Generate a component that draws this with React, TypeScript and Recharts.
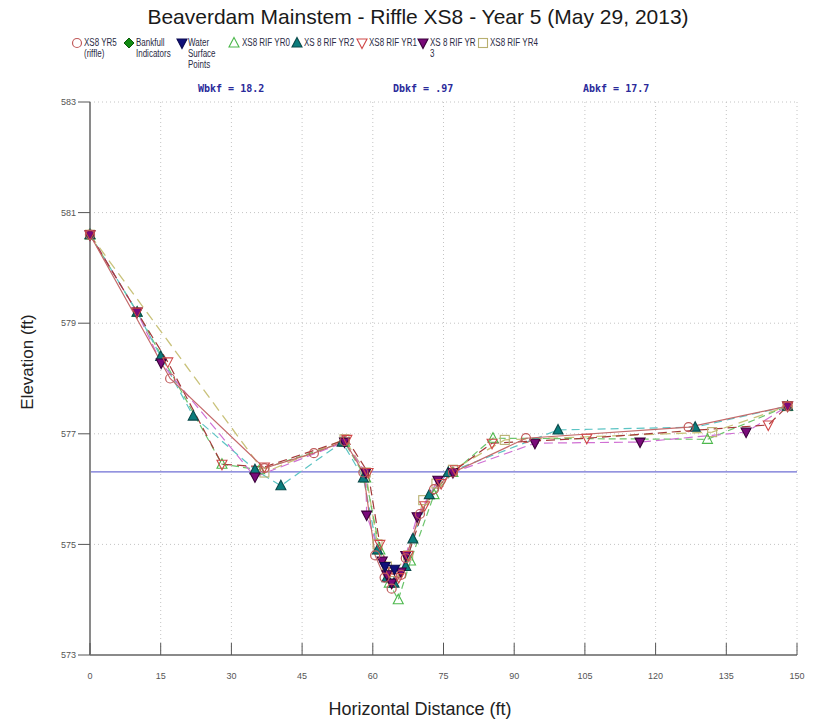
import React from 'react';
import { LineChart, Line, XAxis, YAxis, CartesianGrid, ReferenceLine } from 'recharts';

type Pt = { x: number; y: number };

const xTicks = [0, 15, 30, 45, 60, 75, 90, 105, 120, 135, 150];
const yTicks = [573, 575, 577, 579, 581, 583];
const waterSurface = 576.31;

// Surveyed cross-section profiles (station ft, elevation ft)
const xs8Yr5: Pt[] = [
  { x: 0, y: 580.6 }, { x: 17, y: 578.0 }, { x: 37, y: 576.38 }, { x: 47.5, y: 576.65 },
  { x: 54, y: 576.87 }, { x: 58, y: 576.3 }, { x: 60.5, y: 574.8 }, { x: 62.5, y: 574.4 },
  { x: 64, y: 574.2 }, { x: 66, y: 574.45 }, { x: 67, y: 574.75 }, { x: 70, y: 575.55 },
  { x: 73, y: 576.0 }, { x: 77, y: 576.3 }, { x: 92.5, y: 576.92 }, { x: 127, y: 577.12 },
  { x: 148, y: 577.5 },
];

const bankfullIndicators: Pt[] = [];

const waterSurfacePoints: Pt[] = [
  { x: 62.6, y: 574.6 }, { x: 64.6, y: 574.55 },
];

const rifYr0: Pt[] = [
  { x: 0, y: 580.6 }, { x: 10, y: 579.2 }, { x: 28, y: 576.45 }, { x: 36, y: 576.35 },
  { x: 54, y: 576.85 }, { x: 58.5, y: 576.2 }, { x: 61.5, y: 574.9 }, { x: 63.5, y: 574.3 },
  { x: 65.4, y: 574.0 }, { x: 68, y: 574.7 }, { x: 73, y: 575.9 }, { x: 77, y: 576.3 },
  { x: 85.5, y: 576.92 }, { x: 131, y: 576.9 }, { x: 148, y: 577.5 },
];

const rifYr2: Pt[] = [
  { x: 0, y: 580.6 }, { x: 10, y: 579.2 }, { x: 15, y: 578.4 }, { x: 21.9, y: 577.32 },
  { x: 35, y: 576.35 }, { x: 40.5, y: 576.06 }, { x: 53.5, y: 576.85 }, { x: 58, y: 576.2 },
  { x: 61, y: 574.9 }, { x: 63, y: 574.4 }, { x: 64.5, y: 574.3 }, { x: 67, y: 574.6 },
  { x: 68.5, y: 575.1 }, { x: 72, y: 575.9 }, { x: 76, y: 576.3 }, { x: 99.3, y: 577.07 },
  { x: 128.4, y: 577.12 }, { x: 148, y: 577.5 },
];

const rifYr1: Pt[] = [
  { x: 0, y: 580.6 }, { x: 10, y: 579.2 }, { x: 16.5, y: 578.3 }, { x: 28, y: 576.45 },
  { x: 37, y: 576.4 }, { x: 54.5, y: 576.9 }, { x: 59, y: 576.3 }, { x: 61.5, y: 575.0 },
  { x: 63.5, y: 574.5 }, { x: 65.5, y: 574.4 }, { x: 67.5, y: 574.8 }, { x: 71, y: 575.7 },
  { x: 74.5, y: 576.1 }, { x: 77.5, y: 576.35 }, { x: 85.3, y: 576.83 }, { x: 105.4, y: 576.92 },
  { x: 143.9, y: 577.16 }, { x: 148, y: 577.5 },
];

const rifYr3: Pt[] = [
  { x: 0, y: 580.6 }, { x: 10, y: 579.2 }, { x: 15.1, y: 578.28 }, { x: 35, y: 576.22 },
  { x: 54, y: 576.85 }, { x: 58.5, y: 576.3 }, { x: 58.7, y: 575.53 }, { x: 62, y: 574.7 },
  { x: 63, y: 574.45 }, { x: 64, y: 574.3 }, { x: 66, y: 574.5 }, { x: 67, y: 574.8 },
  { x: 69.4, y: 575.5 }, { x: 73.8, y: 576.16 }, { x: 77, y: 576.3 }, { x: 94.4, y: 576.83 },
  { x: 116.7, y: 576.85 }, { x: 139.2, y: 577.03 }, { x: 148, y: 577.5 },
];

const rifYr4: Pt[] = [
  { x: 0, y: 580.6 }, { x: 37, y: 576.3 }, { x: 54, y: 576.9 }, { x: 58.5, y: 576.3 },
  { x: 61, y: 575.0 }, { x: 63, y: 574.6 }, { x: 64.5, y: 574.5 }, { x: 67.5, y: 574.8 },
  { x: 70.7, y: 575.8 }, { x: 73.5, y: 576.1 }, { x: 77, y: 576.35 }, { x: 88, y: 576.89 },
  { x: 132, y: 577.03 }, { x: 148, y: 577.5 },
];

type Shape = 'circle' | 'diamond' | 'triUp' | 'triDown' | 'square';

function Marker({ shape, cx, cy, stroke, fill, s = 5 }: { shape: Shape; cx: number; cy: number; stroke: string; fill: string; s?: number }) {
  switch (shape) {
    case 'circle':
      return <circle cx={cx} cy={cy} r={s - 0.5} fill={fill} stroke={stroke} strokeWidth={1.2} />;
    case 'diamond':
      return <polygon points={`${cx},${cy - s} ${cx + s},${cy} ${cx},${cy + s} ${cx - s},${cy}`} fill={fill} stroke={stroke} strokeWidth={1} />;
    case 'triUp':
      return <polygon points={`${cx},${cy - s - 0.5} ${cx + s},${cy + s * 0.8} ${cx - s},${cy + s * 0.8}`} fill={fill} stroke={stroke} strokeWidth={1.1} />;
    case 'triDown':
      return <polygon points={`${cx - s},${cy - s * 0.8} ${cx + s},${cy - s * 0.8} ${cx},${cy + s + 0.5}`} fill={fill} stroke={stroke} strokeWidth={1.1} />;
    default:
      return <rect x={cx - s + 0.5} y={cy - s + 0.5} width={2 * s - 1} height={2 * s - 1} fill={fill} stroke={stroke} strokeWidth={1.1} />;
  }
}

const dotFor = (shape: Shape, stroke: string, fill: string) => (props: any) => {
  const { cx, cy, index } = props;
  if (cx == null || cy == null) return <g key={`d-${index}`} />;
  return <Marker key={`d-${index}`} shape={shape} cx={cx} cy={cy} stroke={stroke} fill={fill} />;
};

const legendItems: { label: string[]; shape: Shape; stroke: string; fill: string; mx: number; tx: number }[] = [
  { label: ['XS8 YR5', '(riffle)'], shape: 'circle', stroke: '#c05a5a', fill: 'none', mx: 77, tx: 84 },
  { label: ['Bankfull', 'Indicators'], shape: 'diamond', stroke: '#0a5a0a', fill: '#128a12', mx: 129, tx: 136 },
  { label: ['Water', 'Surface', 'Points'], shape: 'triDown', stroke: '#0a0a50', fill: '#10107a', mx: 182, tx: 188 },
  { label: ['XS8 RIF YR0'], shape: 'triUp', stroke: '#4cb84c', fill: 'none', mx: 234, tx: 242 },
  { label: ['XS 8 RIF YR2'], shape: 'triUp', stroke: '#0a4a4a', fill: '#0b7d7d', mx: 297, tx: 304 },
  { label: ['XS8 RIF YR1'], shape: 'triDown', stroke: '#d04848', fill: 'none', mx: 362, tx: 369 },
  { label: ['XS 8 RIF YR', '3'], shape: 'triDown', stroke: '#3a003a', fill: '#7a0a7a', mx: 423, tx: 430 },
  { label: ['XS8 RIF YR4'], shape: 'square', stroke: '#b8b070', fill: 'none', mx: 483, tx: 490 },
];

const annotations = [
  { text: 'Wbkf = 18.2', x: 198 },
  { text: 'Dbkf = .97', x: 393 },
  { text: 'Abkf = 17.7', x: 583 },
];

const sans = '"Liberation Sans", Arial, sans-serif';

const XTick = (props: any) => {
  const { x, y, payload } = props;
  return (
    <g>
      <line x1={x} y1={y} x2={x} y2={y - 12} stroke="#555" strokeWidth={1} />
      <text x={x} y={y + 24} textAnchor="middle" fontSize={9} fill="#555" fontFamily={sans}>
        {payload.value}
      </text>
    </g>
  );
};

export default function App() {
  return (
    <div style={{ position: 'absolute', left: 0, top: 0, width: 814, height: 719, background: '#fff', overflow: 'hidden' }}>
      <div style={{ position: 'absolute', left: 418, top: 5, transform: 'translateX(-50%)', whiteSpace: 'nowrap', fontFamily: sans, fontSize: 21, color: '#1a1a1a' }}>
        Beaverdam Mainstem - Riffle XS8 - Year 5 (May 29, 2013)
      </div>

      {legendItems.map((it) => (
        <div key={it.label.join(' ')}>
          <svg style={{ position: 'absolute', left: it.mx - 7, top: 36 }} width={14} height={14}>
            <Marker shape={it.shape} cx={7} cy={7} stroke={it.stroke} fill={it.fill} />
          </svg>
          <div style={{ position: 'absolute', left: it.tx, top: 37, fontFamily: sans, fontSize: 10, lineHeight: '11px', color: '#2a2a44', whiteSpace: 'nowrap', transform: 'scaleX(0.8)', transformOrigin: '0 0' }}>
            {it.label.map((l) => (
              <div key={l}>{l}</div>
            ))}
          </div>
        </div>
      ))}

      {annotations.map((a) => (
        <div key={a.text} style={{ position: 'absolute', left: a.x, top: 83, fontFamily: '"DejaVu Sans Mono", monospace', fontWeight: 'bold', fontSize: 10, color: '#2a2a9a', whiteSpace: 'pre' }}>
          {a.text}
        </div>
      ))}

      <div style={{ position: 'absolute', left: 28, top: 362, transform: 'translate(-50%, -50%) rotate(-90deg)', fontFamily: sans, fontSize: 17, color: '#222', whiteSpace: 'nowrap' }}>
        Elevation (ft)
      </div>
      <div style={{ position: 'absolute', left: 420, top: 709, transform: 'translate(-50%, -50%)', fontFamily: sans, fontSize: 18, color: '#222', whiteSpace: 'nowrap' }}>
        Horizontal Distance (ft)
      </div>

      <LineChart width={814} height={719} margin={{ top: 102, right: 17, bottom: 34, left: 30 }} style={{ position: 'absolute', left: 0, top: 0 }}>
        <CartesianGrid stroke="#c4c4c4" strokeDasharray="1 3" />
        <XAxis
          type="number"
          dataKey="x"
          domain={[0, 150]}
          ticks={xTicks}
          interval={0}
          height={30}
          tickSize={0}
          tickMargin={0}
          tick={<XTick />}
          axisLine={{ stroke: '#8a8a8a', strokeWidth: 2 }}
        />
        <YAxis
          type="number"
          domain={[573, 583]}
          ticks={yTicks}
          interval={0}
          width={60}
          tickSize={12}
          tickMargin={2}
          tick={{ fontSize: 9, fill: '#555', fontFamily: sans }}
          tickLine={{ stroke: '#555' }}
          axisLine={{ stroke: '#8a8a8a', strokeWidth: 2 }}
        />
        <ReferenceLine y={waterSurface} stroke="#6f6fd4" strokeWidth={1.2} />

        <Line data={rifYr4} dataKey="y" type="linear" stroke="#c9c27a" strokeWidth={1.3} strokeDasharray="10 6" dot={dotFor('square', '#b8b070', 'none')} isAnimationActive={false} />
        <Line data={rifYr0} dataKey="y" type="linear" stroke="#6cc46c" strokeWidth={1.2} strokeDasharray="7 4" dot={dotFor('triUp', '#4cb84c', 'none')} isAnimationActive={false} />
        <Line data={rifYr2} dataKey="y" type="linear" stroke="#5cc4c4" strokeWidth={1.2} strokeDasharray="8 5" dot={dotFor('triUp', '#0a4a4a', '#0b7d7d')} isAnimationActive={false} />
        <Line data={rifYr3} dataKey="y" type="linear" stroke="#d070d4" strokeWidth={1.2} strokeDasharray="9 5" dot={dotFor('triDown', '#3a003a', '#7a0a7a')} isAnimationActive={false} />
        <Line data={rifYr1} dataKey="y" type="linear" stroke="#a43a3a" strokeWidth={1.2} strokeDasharray="9 5" dot={dotFor('triDown', '#d04848', 'none')} isAnimationActive={false} />
        <Line data={xs8Yr5} dataKey="y" type="linear" stroke="#c46a6a" strokeWidth={1.2} dot={dotFor('circle', '#c05a5a', 'none')} isAnimationActive={false} />
        <Line data={bankfullIndicators} dataKey="y" type="linear" stroke="none" dot={dotFor('diamond', '#0a5a0a', '#128a12')} isAnimationActive={false} />
        <Line data={waterSurfacePoints} dataKey="y" type="linear" stroke="none" dot={dotFor('triDown', '#0a0a50', '#10107a')} isAnimationActive={false} />
      </LineChart>
    </div>
  );
}
